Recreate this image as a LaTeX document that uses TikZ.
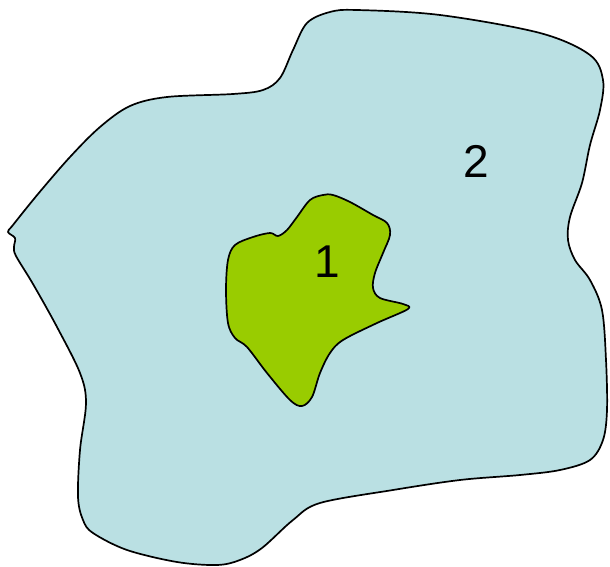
\documentclass[tikz,border=0pt]{standalone}
\usepackage{fontspec}
\setmainfont{Liberation Sans}
\definecolor{regionblue}{HTML}{BAE0E3}
\definecolor{regiongreen}{HTML}{99CC00}
\begin{document}
\begin{tikzpicture}[x=1pt,y=-1pt,
  blob/.style={draw=black,line width=1.7pt,line join=round},
  lbl/.style={font=\fontsize{46}{50}\selectfont,inner sep=0pt}]
\useasboundingbox (0,0) rectangle (610,567);
% outer region 2
\draw[blob,fill=regionblue] plot[smooth cycle,tension=0.55] coordinates {
 (8,232) (13,225) (38,194) (70,157) (100,127) (130,106) (167,97) (233,94)
 (263,90) (280,78) (293,50) (307,23) (330,12) (357,10) (440,15) (540,33)
 (590,55) (603,80) (600,110) (590,145) (582,183) (570,217) (568,240)
 (575,260) (590,280) (602,310) (606,360) (607,410) (603,440) (590,460)
 (560,470) (520,475) (460,480) (393,490) (320,503) (293,520) (262,548)
 (240,560) (217,565) (177,562) (127,550) (93,533) (83,520) (78,497)
 (80,450) (86,403) (80,373) (57,327) (33,284) (16,256) (14,247) (15,238)};
% inner region 1
\draw[blob,fill=regiongreen] plot[smooth cycle,tension=0.55] coordinates {
 (323,195) (310,200) (297,217) (287,230) (278,236) (270,233) (253,237)
 (235,245) (228,260) (226,290) (228,323) (235,338) (247,347) (267,373)
 (290,400) (302,406) (312,397) (320,373) (330,353) (343,340) (377,323)
 (408,309) (403,304) (380,298) (373,288) (375,273) (383,253) (390,235)
 (387,223) (373,215) (350,202) (333,195)};
\node[lbl] (one) at (327,262) {1};
\node[lbl] (two) at (476,161) {2};
\end{tikzpicture}
\end{document}
